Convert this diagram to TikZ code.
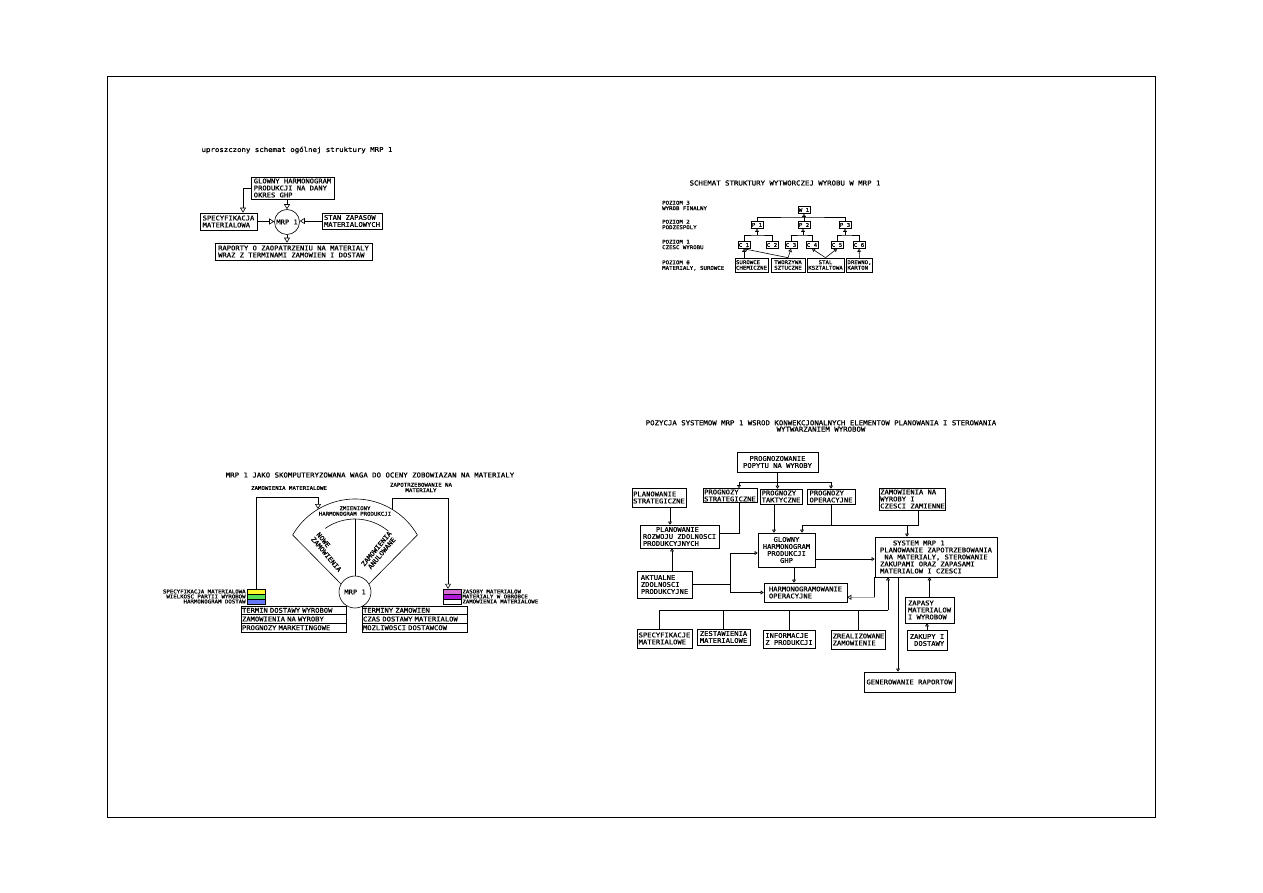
\documentclass[tikz,border=0pt]{standalone}
\usepackage{fontspec}
\usepackage{tikz}
\usetikzlibrary{arrows.meta, positioning, calc}
\newfontfamily\cadfont[FakeStretch=1.1, FakeBold=0.8]{DejaVu Sans Mono}
\newcommand{\fmain}{\cadfont\fontsize{6.5}{7}\selectfont}
\newcommand{\fsmall}{\cadfont\fontsize{5.2}{5.5}\selectfont}
\newcommand{\ftitle}{\cadfont\fontsize{6.7}{6.4}\selectfont}
\definecolor{cYel}{RGB}{250,250,40}
\definecolor{cGrn}{RGB}{90,225,90}
\definecolor{cBlu}{RGB}{100,120,245}
\definecolor{cMag}{RGB}{215,110,215}
\definecolor{cPur}{RGB}{175,25,215}
\tikzset{
  mrpbox/.style={rectangle, draw, line width=0.6pt, inner sep=1pt,
                 align=left, font=\fmain},
  mrpsmall/.style={mrpbox, inner sep=0.8pt, font=\fsmall},
  mrplbl/.style={inner sep=0pt, align=left, font=\fsmall},
  mrpcirc/.style={circle, draw, line width=0.6pt, inner sep=0pt, font=\fmain},
  mrprow/.style={mrpbox, text width=103pt, minimum height=8.7pt},
  colbox/.style={rectangle, draw, line width=0.4pt, inner sep=0pt,
                 minimum width=18pt, minimum height=5pt},
  mrpline/.style={line width=0.6pt},
  mrparrow/.style={mrpline, -{Triangle[open, length=5pt, width=6pt]}},
  mrpsarrow/.style={mrpline, -{Triangle[open, length=3pt, width=3.8pt]}},
}

\begin{document}
\begin{tikzpicture}[x=1pt, y=-1pt]
  \fill[white] (0,0) rectangle (1263,893);
  \useasboundingbox (0,0) rectangle (1263,893);
  % Ramka
  \draw[line width=0.8pt] (107,76) rectangle (1155,817);

  % Schemat ogolny MRP 1
  \node[font=\ftitle] (t1) at (297,150) {uproszczony schemat ogólnej struktury MRP 1};
  \node[mrpbox, minimum width=83pt, minimum height=22pt] (ghpa) at (292.5,188)
    {GLOWNY HARMONOGRAM\\PRODUKCJI NA DANY\\OKRES GHP};
  \node[mrpcirc, minimum size=25pt] (mrpa) at (287,222) {MRP 1};
  \node[mrpbox, minimum width=57pt, minimum height=17pt] (speca) at (228.5,221.5)
    {SPECYFIKACJA\\MATERIALOWA};
  \node[mrpbox, minimum width=60pt, minimum height=16pt] (stana) at (352,221)
    {STAN ZAPASOW\\MATERIALOWYCH};
  \node[mrpbox, minimum width=157pt, minimum height=17pt] (rapa) at (293.5,251.5)
    {RAPORTY O ZAOPATRZENIU NA MATERIALY\\WRAZ Z TERMINAMI ZAMOWIEN I DOSTAW};
  \draw[mrparrow] (mrpa.north |- ghpa.south) -- (mrpa.north);
  \draw[mrparrow] (ghpa.west) -| ([xshift=14.5pt]speca.north);
  \draw[mrparrow] (speca.east) -- (speca.east -| mrpa.west);
  \draw[mrparrow] (stana.west) -- (stana.west -| mrpa.east);
  \draw[mrparrow] (mrpa.south) -- (mrpa.south |- rapa.north);

  % Struktura wyrobu
  \node[font=\ftitle] (t2) at (785,183) {SCHEMAT STRUKTURY WYTWORCZEJ WYROBU W MRP 1};
  \node[mrplbl, anchor=west] (lv3) at (662,205.5) {POZIOM 3\\WYROB FINALNY};
  \node[mrplbl, anchor=west] (lv2) at (662,224.5) {POZIOM 2\\PODZESPOLY};
  \node[mrplbl, anchor=west] (lv1) at (662,244.5) {POZIOM 1\\CZESC WYROBU};
  \node[mrplbl, anchor=west] (lv0) at (662,265.5) {POZIOM 0\\MATERIALY, SUROWCE};
  \node[mrpsmall, minimum height=7pt] (w1) at (804,210) {W 1};
  \node[mrpsmall, minimum height=7pt] (p1) at (757,225) {P 1};
  \node[mrpsmall, minimum height=7pt] (p2) at (804,225) {P 2};
  \node[mrpsmall, minimum height=7pt] (p3) at (845,225) {P 3};
  \node[mrpsmall, minimum height=7pt] (c1) at (744,245) {C 1};
  \node[mrpsmall, minimum height=7pt] (c2) at (772,245) {C 2};
  \node[mrpsmall, minimum height=7pt] (c3) at (791,245) {C 3};
  \node[mrpsmall, minimum height=7pt] (c4) at (812,245) {C 4};
  \node[mrpsmall, minimum height=7pt] (c5) at (837,245) {C 5};
  \node[mrpsmall, minimum height=7pt] (c6) at (859,245) {C 6};
  \node[mrpsmall, minimum width=33pt, minimum height=14pt] (sur) at (751.5,265) {SUROWCE\\CHEMICZNE};
  \node[mrpsmall, minimum width=34pt, minimum height=14pt] (two) at (788,265) {TWORZYWA\\SZTUCZNE};
  \node[mrpsmall, minimum width=37pt, minimum height=14pt, align=center] (stal) at (825.5,265) {STAL\\KSZTALTOWA};
  \node[mrpsmall, minimum width=25pt, minimum height=14pt] (drew) at (859.5,265) {DREWNO,\\KARTON};
  \coordinate (bw) at (804,217);
  \coordinate (b1) at (757,235);
  \coordinate (b2) at (803,235);
  \coordinate (b3) at (845,235);
  \draw[mrpline] (p1.north) |- (bw) -| (p3.north);
  \draw[mrpsarrow] (p2.north) -- (w1.south);
  \draw[mrpline] (c1.north) |- (b1) -| (c2.north);
  \draw[mrpline] (c3.north) |- (b2) -| (c4.north);
  \draw[mrpline] (c5.north) |- (b3) -| (c6.north);
  \draw[mrpsarrow] (b1) -- (p1.south);
  \draw[mrpsarrow] (b2) -- (b2 |- p2.south);
  \draw[mrpsarrow] (b3) -- (p3.south);
  \draw[mrpsarrow] (c1.south |- sur.north) -- (c1.south);
  \draw[mrpsarrow] (two.north) -- (c1.south);
  \draw[mrpsarrow] (two.north) -- (c3.south);
  \draw[mrpsarrow] (stal.north) -- (c4.south);
  \draw[mrpsarrow] (stal.north) -- (c5.south);
  \draw[mrpsarrow] (drew.north) -- (c6.south);

  % Waga MRP 1
  \node[font=\ftitle] (t3) at (370,475)
    {MRP 1 JAKO SKOMPUTERYZOWANA WAGA DO OCENY ZOBOWIAZAN NA MATERIALY};
  \node[mrplbl] (lzam) at (289,488) {ZAMOWIENIA MATERIALOWE};
  \node[mrplbl, align=center] (lzap) at (421,487.5) {ZAPOTRZEBOWANIE NA\\MATERIALY};
  \node[mrpcirc, minimum size=32pt] (mrpb) at (355,592) {MRP 1};
  \coordinate (fanc) at (355,571);
  \draw[mrpline] (mrpb.150) -- ($(fanc)+(150:72pt)$)
    arc[start angle=150, end angle=30, radius=72pt] -- (mrpb.30);
  \draw[mrpline] ($(fanc)+(125:52pt)$) arc[start angle=125, end angle=50, radius=52pt];
  \draw[mrpline] (mrpb.north) -- ($(fanc)+(90:52pt)$);
  \node[mrplbl, align=center] (lzmi) at (355,511) {ZMIENIONY\\HARMONOGRAM PRODUKCJI};
  \node[mrplbl, font=\fmain, rotate=-50] (lnow) at (329,552) {NOWE\\ZAMOWIENIA};
  \node[mrplbl, font=\fmain, align=center, rotate=50] (lanu) at (379,551) {ZAMOWIENIA\\ANULOWANE};
  \node[colbox, fill=cYel] (lyel) at (256,591.5) {};
  \node[colbox, fill=cGrn] (lgrn) at (256,596.5) {};
  \node[colbox, fill=cBlu] (lblu) at (256,601.5) {};
  \node[colbox, fill=cMag] (rmag) at (452,591.5) {};
  \node[colbox, fill=cPur] (rpur) at (452,596.5) {};
  \node[colbox, fill=white] (rwht) at (452,601.5) {};
  \node[mrplbl, left=1pt of lyel] (lspec) {SPECYFIKACJA MATERIALOWA};
  \node[mrplbl, left=1pt of lgrn] (lwiel) {WIELKOSC PARTII WYROBOW};
  \node[mrplbl, left=1pt of lblu] (lharm) {HARMONOGRAM DOSTAW};
  \node[mrplbl, right=1pt of rmag] (rzas) {ZASOBY MATERIALOW};
  \node[mrplbl, right=1pt of rpur] (robr) {MATERIALY W OBROBCE};
  \node[mrplbl, right=1pt of rwht] (rzam) {ZAMOWIENIA MATERIALOWE};
  \coordinate (zaml) at (318,497);
  \coordinate (fanl) at (318,509);
  \coordinate (fanr) at (392,509);
  \coordinate (zapr) at (448,498);
  \draw[mrparrow] (lyel.north) |- (zaml) -- (fanl);
  \draw[mrparrow] (fanr) |- (zapr) -- (zapr |- rmag.north);
  \node[mrprow] (tl1) at (293.5,610.35) {TERMIN DOSTAWY WYROBOW};
  \node[mrprow] (tl2) at (293.5,619.05) {ZAMOWIENIA NA WYROBY};
  \node[mrprow] (tl3) at (293.5,627.75) {PROGNOZY MARKETINGOWE};
  \node[mrprow] (tr1) at (414.5,610.35) {TERMINY ZAMOWIEN};
  \node[mrprow] (tr2) at (414.5,619.05) {CZAS DOSTAWY MATERIALOW};
  \node[mrprow] (tr3) at (414.5,627.75) {MOZLIWOSCI DOSTAWCOW};

  % Pozycja systemow MRP 1
  \node[font=\ftitle, align=center] (t4) at (821,426)
    {POZYCJA SYSTEMOW MRP 1 WSROD KONWEKCJONALNYCH ELEMENTOW PLANOWANIA I STEROWANIA\\WYTWARZANIEM WYROBOW};
  \node[mrpbox, align=center, minimum width=81pt, minimum height=20pt] (prog) at (777.5,462)
    {PROGNOZOWANIE\\POPYTU NA WYROBY};
  \node[mrpbox, minimum width=46pt, minimum height=19pt] (plst) at (659,497.5) {PLANOWANIE\\STRATEGICZNE};
  \node[mrpbox, minimum width=54pt, minimum height=13pt] (pgst) at (730,495.5) {PROGNOZY\\STRATEGICZNE};
  \node[mrpbox, minimum width=42pt, minimum height=15pt] (pgtk) at (781,496.5) {PROGNOZY\\TAKTYCZNE};
  \node[mrpbox, minimum width=48pt, minimum height=15pt] (pgop) at (831,496.5) {PROGNOZY\\OPERACYJNE};
  \node[mrpbox, minimum width=61pt, minimum height=22pt] (zamw) at (912.5,499)
    {ZAMOWIENIA NA\\WYROBY I\\CZESCI ZAMIENNE};
  \node[mrpbox, minimum width=79pt, minimum height=23pt] (plrz) at (679.5,536.5)
    {\phantom{ROZ}PLANOWANIE\\ROZWOJU ZDOLNOSCI\\PRODUKCYJNYCH};
  \node[mrpbox, minimum width=55pt, minimum height=27pt] (akt) at (664.5,584.5)
    {AKTUALNE\\ZDOLNOSCI\\PRODUKCYJNE};
  \node[mrpbox, align=center, minimum width=57pt, minimum height=34pt] (ghp) at (786.5,550)
    {GLOWNY\\HARMONOGRAM\\PRODUKCJI\\GHP};
  \node[mrpbox, minimum width=83pt, minimum height=19pt] (harm) at (805.5,592.5)
    {HARMONOGRAMOWANIE\\OPERACYJNE};
  \node[mrpbox, minimum width=122pt, minimum height=40pt] (sys) at (936,557)
    {\phantom{XXX}SYSTEM MRP 1\\PLANOWANIE ZAPOTRZEBOWANIA\\\phantom{X}NA MATERIALY, STEROWANIE\\ZAKUPAMI ORAZ ZAPASAMI\\MATERIALOW I CZESCI};
  \node[mrpbox, minimum width=49pt, minimum height=26pt] (zap) at (929.5,610)
    {ZAPASY\\MATERIALOW\\I WYROBOW};
  \node[mrpbox, minimum width=40pt, minimum height=20pt] (zak) at (927,640)
    {ZAKUPY I\\\phantom{X}DOSTAWY};
  \node[mrpbox, minimum width=55pt, minimum height=19pt] (spc) at (664.5,638.5) {SPECYFIKACJE\\MATERIALOWE};
  \node[mrpbox, minimum width=53pt, minimum height=16pt] (zes) at (723.5,637) {ZESTAWIENIA\\MATERIALOWE};
  \node[mrpbox, minimum width=52pt, minimum height=18pt] (inf) at (789,639) {INFORMACJE\\Z PRODUKCJI};
  \node[mrpbox, minimum width=53pt, minimum height=19pt] (zre) at (858.5,639.5) {ZREALIZOWANE\\ZAMOWIENIE};
  \node[mrpbox, align=center, minimum width=91pt, minimum height=20pt] (gen) at (909.5,682)
    {GENEROWANIE RAPORTOW};
  % Polaczenia
  \coordinate (pbar) at (777.5,482);
  \draw[mrpline] (prog.south) -- (pbar);
  \draw[mrpsarrow] (pbar) -| ([xshift=9pt]pgst.north);
  \draw[mrpsarrow] (pbar) -- (pbar |- pgtk.north);
  \draw[mrpsarrow] (pbar) -| (pgop.north);
  \draw[mrpsarrow] ([xshift=11pt]plst.south) -- ([xshift=11pt]plst.south |- plrz.north);
  \draw[mrpline] ([xshift=9pt]pgst.south) |- ([yshift=3.5pt]plrz.east);
  \draw[mrpsarrow] ([xshift=-7pt]pgtk.south) -- ([xshift=-7pt]pgtk.south |- ghp.north);
  \coordinate (ogl) at (802,525);
  \coordinate (ogs) at (907,525);
  \draw[mrpline] ([xshift=5.5pt]zamw.south) |- (ogl);
  \draw[mrpline] (pgop.south) -- (pgop.south |- ogl);
  \draw[mrpsarrow] (ogl) -- (ogl |- ghp.north);
  \draw[mrpsarrow] (ogs) -- (ogs |- sys.north);
  \draw[mrpsarrow] ([xshift=7.5pt]akt.north) -- ([xshift=7.5pt]akt.north |- plrz.south);
  \coordinate (akr) at (730,584.5);
  \draw[mrpline] (akt.east) -- (akr);
  \draw[mrpsarrow] (akr) |- ([yshift=-3pt]ghp.west);
  \draw[mrpsarrow] (akr) |- (harm.west);
  \draw[mrpsarrow] ([xshift=7.5pt]ghp.south) -- ([xshift=7.5pt]ghp.south |- harm.north);
  \draw[mrpsarrow] ([yshift=-9pt]ghp.east) -- ([yshift=-9pt]ghp.east -| sys.west);
  \draw[mrpline] (sys.south west) -- ++(0,20) coordinate (sysh);
  \draw[gray!70, line width=1.3pt, -{Triangle[open, length=4pt, width=5pt, color=black, line width=0.6pt]}]
    (sysh) -- (sysh -| harm.east);
  \draw[mrpsarrow] (zap.north) -- (zap.north |- sys.south);
  \draw[mrpsarrow] (zak.north) -- (zak.north |- zap.south);
  \coordinate (bbl) at (659,610);
  \coordinate (bbr) at (888,610);
  \draw[mrpline] (spc.north -| bbl) |- (bbr);
  \draw[mrpline] (zes.north) -- (zes.north |- bbl);
  \draw[mrpline] (inf.north) -- (inf.north |- bbl);
  \draw[mrpline] (zre.north) -- (zre.north |- bbl);
  \draw[mrpsarrow] (bbr) -- (bbr |- sys.south);
  \draw[mrpsarrow] ([xshift=-38pt]sys.south) -- ([xshift=-38pt]sys.south |- gen.north);
\end{tikzpicture}
\end{document}
